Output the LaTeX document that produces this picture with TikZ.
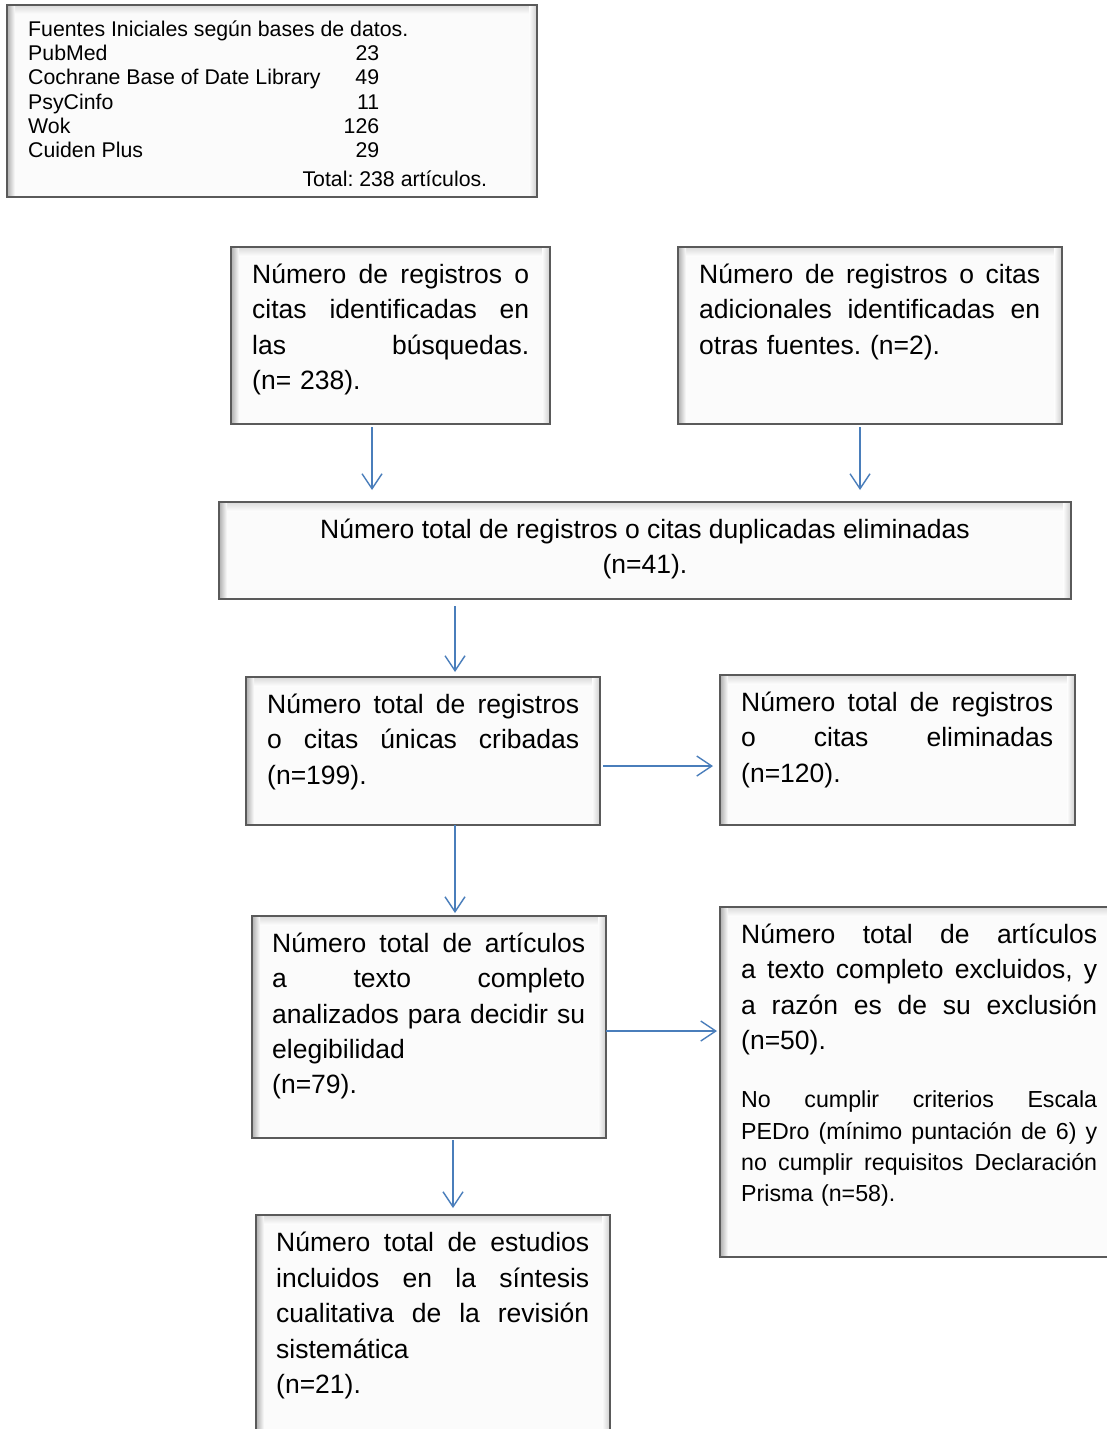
\documentclass[tikz,border=0pt]{standalone}
\usepackage{fontspec}
\setmainfont{Liberation Sans}
\usetikzlibrary{arrows.meta,calc}
\frenchspacing
\definecolor{arrowblue}{HTML}{4A7EBB}
\definecolor{boxline}{HTML}{5A5A5A}
\newcommand\jl[1]{\noindent\hbox to \hsize{\spaceskip=0.278em plus 1fill\relax\xspaceskip=\spaceskip #1}\\}
\newcommand\firstrule{\rule{0pt}{27pt}}
\newcommand\bevel[1]{%
  \shade[top color=black!13, bottom color=black!1] ([shift={(1pt,-1pt)}]#1.north west) rectangle ([shift={(-1pt,-9pt)}]#1.north east);
  \shade[left color=black!28, right color=black!1] ([shift={(1pt,-1pt)}]#1.north west) rectangle ([shift={(8pt,1pt)}]#1.south west);
  \shade[left color=black!1, right color=black!17] ([shift={(-8pt,-1pt)}]#1.north east) rectangle ([shift={(-1pt,1pt)}]#1.south east);
  \draw[boxline, line width=1.1pt] (#1.north west) rectangle (#1.south east);
}
\tikzset{
  boxnode/.style={fill=black!1.5, inner sep=0pt, outer sep=0pt},
  txt/.style={anchor=north west, inner sep=0pt, align=left, font=\fontsize{26.5}{35.4}\selectfont},
  arr/.style={draw=arrowblue, line width=1.4pt, -{Straight Barb[length=15pt,width=20pt]}},
}
\begin{document}
\begin{tikzpicture}[x=1pt,y=-1pt]
\useasboundingbox[fill=white] (0,0) rectangle (1106,1429);

% boxes
\node[boxnode, minimum width=530pt, minimum height=192pt] (b0) at (272,101) {};
\node[boxnode, minimum width=319pt, minimum height=177pt] (b1) at (390.5,335.5) {};
\node[boxnode, minimum width=384pt, minimum height=177pt] (b2) at (870,335.5) {};
\node[boxnode, minimum width=852pt, minimum height=97pt] (b3) at (645,550.5) {};
\node[boxnode, minimum width=354pt, minimum height=148pt] (b4) at (423,751) {};
\node[boxnode, minimum width=355pt, minimum height=150pt] (b5) at (897.5,750) {};
\node[boxnode, minimum width=354pt, minimum height=222pt] (b6) at (429,1027) {};
\node[boxnode, minimum width=400pt, minimum height=350pt] (b7) at (920,1082) {};
\node[boxnode, minimum width=354pt, minimum height=230pt] (b8) at (433,1330) {};
\bevel{b0}\bevel{b1}\bevel{b2}\bevel{b3}\bevel{b4}\bevel{b5}\bevel{b6}\bevel{b7}\bevel{b8}

% texts
\node[anchor=north west, inner sep=0pt, align=left, font=\fontsize{21.3}{24.3}\selectfont] (t0) at (28,13) {%
\rule{0pt}{23pt}Fuentes Iniciales según bases de datos.\\
\hbox to 351pt{PubMed\hfill 23}\\
\hbox to 351pt{Cochrane Base of Date Library\hfill 49}\\
\hbox to 351pt{PsyCinfo\hfill 11}\\
\hbox to 351pt{Wok\hfill 126}\\
\hbox to 351pt{Cuiden Plus\hfill 29}\\[4.1pt]
\hbox to 459pt{\hfill Total: 238 artículos.}};

\node[txt, text width=277pt] (t1) at (252,256) {%
\jl{\firstrule Número de registros o}
\jl{citas identificadas en}
\jl{las búsquedas.}
(n= 238).};

\node[txt, text width=341pt] (t2) at (699,256) {%
\jl{\firstrule Número de registros o citas}
\jl{adicionales identificadas en}
otras fuentes. (n=2).};

\node[txt, anchor=north, align=center] (t3) at (645,511) {%
\firstrule Número total de registros o citas duplicadas eliminadas\\
(n=41).};

\node[txt, text width=312pt] (t4) at (267,686) {%
\jl{\firstrule Número total de registros}
\jl{o citas únicas cribadas}
(n=199).};

\node[txt, text width=312pt] (t5) at (741,684) {%
\jl{\firstrule Número total de registros}
\jl{o citas eliminadas}
(n=120).};

\node[txt, text width=313pt] (t6) at (272,925) {%
\jl{\firstrule Número total de artículos}
\jl{a texto completo}
\jl{analizados para decidir su}
elegibilidad\\
(n=79).};

\node[txt, text width=356pt] (t7a) at (741,916.3) {%
\jl{\firstrule Número total de artículos}
\jl{a texto completo excluidos, y}
\jl{a razón es de su exclusión}
(n=50).};

\node[txt, text width=356pt, font=\fontsize{23.2}{31.4}\selectfont] (t7b) at (741,1083.5) {%
\jl{\rule{0pt}{24pt}No cumplir criterios Escala}
\jl{PEDro (mínimo puntación de 6) y}
\jl{no cumplir requisitos Declaración}
Prisma (n=58).};

\node[txt, text width=313pt] (t8) at (276,1224.7) {%
\jl{\firstrule Número total de estudios}
\jl{incluidos en la síntesis}
\jl{cualitativa de la revisión}
sistemática\\
(n=21).};

% arrow positions
\coordinate (x1) at (372,0);
\coordinate (x2) at (860,0);
\coordinate (x3) at (455,0);
\coordinate (y4) at (0,766);
\coordinate (x5) at (455,0);
\coordinate (y6) at (0,1031);
\coordinate (x7) at (453,0);

\draw[arr, shorten <=3pt, shorten >=12pt] (b1.south -| x1) -- (b3.north -| x1);
\draw[arr, shorten <=3pt, shorten >=12pt] (b2.south -| x2) -- (b3.north -| x2);
\draw[arr, shorten <=7pt, shorten >=5pt] (b3.south -| x3) -- (b4.north -| x3);
\draw[arr, shorten <=3pt, shorten >=7pt] (b4.east |- y4) -- (b5.west |- y4);
\draw[arr, shorten <=0pt, shorten >=3pt] (b4.south -| x5) -- (b6.north -| x5);
\draw[arr, shorten <=0pt, shorten >=3pt] (b6.east |- y6) -- (b7.west |- y6);
\draw[arr, shorten <=2pt, shorten >=7pt] (b6.south -| x7) -- (b8.north -| x7);
\end{tikzpicture}
\end{document}
